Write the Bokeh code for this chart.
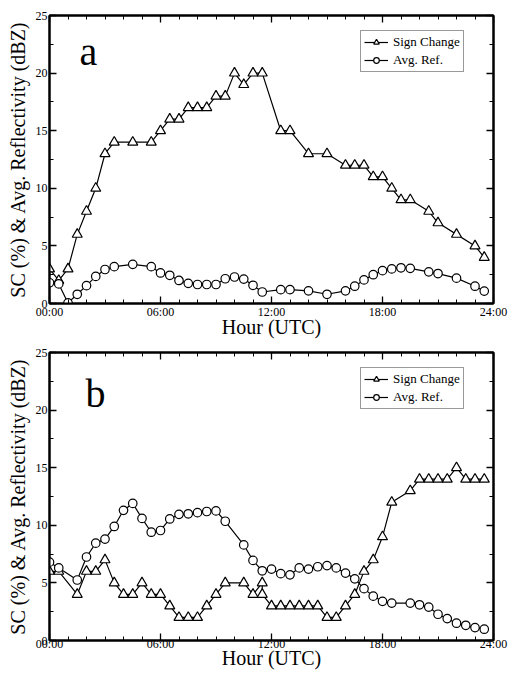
from bokeh.plotting import figure
from bokeh.models import Range1d, FixedTicker, LinearAxis, Legend, LegendItem, Label
from bokeh.layouts import column
from bokeh.embed import file_html
from bokeh.resources import INLINE

FONT = "Liberation Serif"

# ---------------- data ----------------
hours_a = [0, 0.5, 1, 1.5, 2, 2.5, 3, 3.5, 4.5, 5.5,
           6, 6.5, 7, 7.5, 8, 8.5, 9, 9.5, 10, 10.5, 11, 11.5,
           12.5, 13, 14, 15, 16, 16.5, 17, 17.5, 18, 18.5, 19, 19.5,
           20.5, 21, 22, 23, 23.5]
sign_change_a = [3, 2, 3, 6, 8, 10, 13, 14, 14, 14,
                 15, 16, 16, 17, 17, 17, 18, 18, 20, 19, 20, 20,
                 15, 15, 13, 13, 12, 12, 12, 11, 11, 10, 9, 9,
                 8, 7, 6, 5, 4]
avg_ref_a = [1.8, 1.7, 0.05, 0.8, 1.55, 2.35, 2.95, 3.2, 3.4, 3.2,
             2.65, 2.45, 2.0, 1.75, 1.65, 1.65, 1.65, 2.15, 2.3, 2.12, 1.58, 1.0,
             1.2, 1.2, 1.1, 0.8, 1.1, 1.5, 2.05, 2.5, 2.85, 3.0, 3.1, 3.05,
             2.75, 2.6, 2.2, 1.5, 1.08]

hours_b_sc = [0, 0.5, 1.5, 2, 2.5, 3, 3.5, 4, 4.5, 5, 5.5, 6,
              6.5, 7, 7.5, 8, 8.5, 9, 9.5,
              10.5, 11, 11.5, 11.5,
              12, 12.5, 13, 13.5, 14, 14.5, 15, 15.5, 16, 16.5, 17, 17.5, 18, 18.5,
              19.5, 20, 20.5, 21, 21.5, 22, 22.5, 23, 23.5]
sign_change_b = [6, 6, 4, 6, 6, 7, 5, 4, 4, 5, 4, 4,
                 3, 2, 2, 2, 3, 4, 5,
                 5, 4, 5, 4,
                 3, 3, 3, 3, 3, 3, 2, 2, 3, 4, 6, 7, 9, 12,
                 13, 14, 14, 14, 14, 15, 14, 14, 14]
hours_b_ref = [0, 0.5, 1.5, 2, 2.5, 3, 3.5, 4, 4.5, 5, 5.5, 6,
               6.5, 7, 7.5, 8, 8.5, 9, 9.5,
               10.5, 11, 11.5,
               12, 12.5, 13, 13.5, 14, 14.5, 15, 15.5, 16, 16.5, 17, 17.5, 18, 18.5,
               19.5, 20, 20.5, 21, 21.5, 22, 22.5, 23, 23.5]
avg_ref_b = [6.8, 6.3, 5.25, 7.25, 8.45, 8.8, 9.9, 11.3, 11.9, 10.6, 9.4, 9.55,
             10.55, 10.95, 11.0, 11.1, 11.2, 11.25, 10.35,
             8.3, 6.95, 6.05,
             6.2, 5.8, 5.7, 6.3, 6.2, 6.4, 6.5, 6.3, 5.85, 5.35, 4.5, 3.85, 3.4, 3.25,
             3.25, 3.1, 2.9, 2.28, 1.9, 1.5, 1.32, 1.12, 0.98]

x_ticks = [0, 6, 12, 18, 24]
x_tick_labels = ["00:00", "06:00", "12:00", "18:00", "24:00"]
x_minor_ticks = list(range(0, 25))
y_ticks = [0, 5, 10, 15, 20, 25]
y_minor_ticks = [2.5, 7.5, 12.5, 17.5, 22.5]

series_names = ["Sign Change", "Avg. Ref."]
x_title = "Hour (UTC)"
y_title = "SC (%) & Avg. Reflectivity (dBZ)"


def style_axis(ax, labels=True, label_standoff=2, title_standoff=1):
    ax.axis_line_width = 2
    ax.axis_line_color = "black"
    ax.major_tick_in = 7
    ax.major_tick_out = 0
    ax.minor_tick_in = 4
    ax.minor_tick_out = 0
    ax.major_tick_line_width = 1.3
    ax.minor_tick_line_width = 1
    ax.major_tick_line_color = "black"
    ax.minor_tick_line_color = "black"
    ax.major_label_text_font = FONT
    ax.major_label_text_color = "black"
    if labels:
        ax.major_label_text_font_size = "12px"
        ax.major_label_standoff = label_standoff
    else:
        ax.major_label_text_font_size = "1px"
        ax.major_label_standoff = 0
    ax.axis_label_text_font = FONT
    ax.axis_label_text_font_size = "20px"
    ax.axis_label_text_font_style = "normal"
    ax.axis_label_text_color = "black"
    ax.axis_label_standoff = title_standoff


def make_panel(letter, hx_sc, sc, hx_ref, ref, height, top_border, bottom_border,
               x_label_standoff, x_title_standoff, letter_x, letter_y):
    p = figure(width=508, height=height,
               x_range=Range1d(0, 24), y_range=Range1d(0, 25),
               output_backend="svg", toolbar_location=None,
               min_border_left=49, min_border_right=15,
               min_border_top=top_border, min_border_bottom=bottom_border)
    p.xgrid.grid_line_color = None
    p.ygrid.grid_line_color = None
    p.outline_line_color = "black"
    p.outline_line_width = 2
    p.background_fill_color = "white"

    p.xaxis.ticker = FixedTicker(ticks=x_ticks, minor_ticks=x_minor_ticks)
    p.yaxis.ticker = FixedTicker(ticks=y_ticks, minor_ticks=y_minor_ticks)
    p.xaxis.major_label_overrides = dict(zip(x_ticks, x_tick_labels))
    p.xaxis.axis_label = x_title
    p.yaxis.axis_label = y_title
    for ax in p.xaxis:
        style_axis(ax, label_standoff=x_label_standoff, title_standoff=x_title_standoff)
    for ax in p.yaxis:
        style_axis(ax, label_standoff=2, title_standoff=4)

    top = LinearAxis(ticker=FixedTicker(ticks=x_ticks, minor_ticks=x_minor_ticks))
    top.major_label_overrides = {t: "" for t in x_ticks}
    style_axis(top, labels=False)
    p.add_layout(top, "above")
    right = LinearAxis(ticker=FixedTicker(ticks=y_ticks, minor_ticks=y_minor_ticks))
    right.major_label_overrides = {t: "" for t in y_ticks}
    style_axis(right, labels=False)
    p.add_layout(right, "right")

    l1 = p.line(hx_sc, sc, line_color="black", line_width=1.2)
    s1 = p.scatter(hx_sc, sc, marker="triangle", size=10, fill_color="white",
                   line_color="black", line_width=1.2)
    l2 = p.line(hx_ref, ref, line_color="black", line_width=1.2)
    s2 = p.scatter(hx_ref, ref, marker="circle", size=8.5, fill_color="white",
                   line_color="black", line_width=1.2)

    legend = Legend(items=[LegendItem(label=series_names[0], renderers=[l1, s1]),
                           LegendItem(label=series_names[1], renderers=[l2, s2])],
                    location=(311, 231))
    legend.label_text_font = FONT
    legend.label_text_font_size = "13px"
    legend.label_text_color = "black"
    legend.label_height = 14
    legend.glyph_height = 14
    legend.glyph_width = 24
    legend.label_standoff = 5
    legend.spacing = 2
    legend.padding = 3
    legend.margin = 0
    legend.border_line_color = "#333333"
    legend.border_line_width = 1
    legend.background_fill_color = "white"
    legend.background_fill_alpha = 1
    p.add_layout(legend, "center")

    p.add_layout(Label(x=letter_x, y=letter_y, x_units="screen", y_units="screen",
                       text=letter, text_font=FONT, text_font_size="40px",
                       text_color="black", text_baseline="alphabetic"))
    return p


pa = make_panel("a", hours_a, sign_change_a, hours_a, avg_ref_a,
                340, 15, 37, 1, -6, 30, 252)
pb = make_panel("b", hours_b_sc, sign_change_b, hours_b_ref, avg_ref_b,
                333, 12, 33, -4, -7, 36, 247)

layout = column(pa, pb, spacing=0)
open("out.html", "w").write(file_html(layout, INLINE))
